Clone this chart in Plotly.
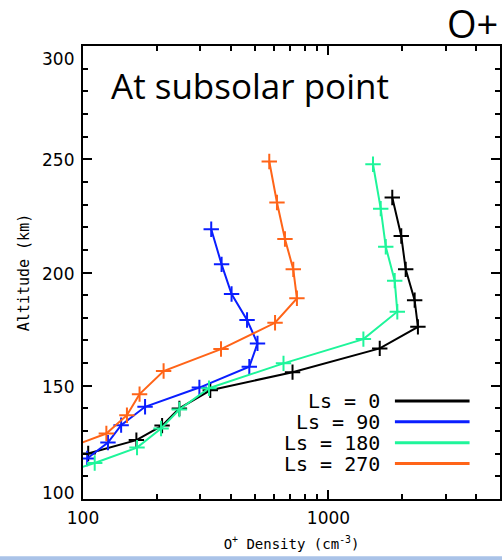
import plotly.graph_objects as go

# O+ density profiles at the subsolar point, one per solar longitude
ls_names = ["Ls = 0", "Ls = 90", "Ls = 180", "Ls = 270"]
ls_colors = ["#000000", "#0a1eff", "#1ef59a", "#ff6418"]

dens_ls0 = [1820, 1980, 2064, 2245, 2315, 1618, 714, 330, 247, 210, 165, 105]
alt_ls0 = [233.1, 216.1, 201.4, 187.8, 176.0, 166.5, 156.0, 148.0, 140.0, 132.4, 126.0, 120.1]

dens_ls90 = [333, 367, 403, 466, 514, 476, 298, 179, 143, 126.4, 104]
alt_ls90 = [219.1, 203.6, 190.5, 179.0, 168.7, 158.4, 149.2, 140.7, 132.6, 124.9, 117.9]

dens_ls180 = [1519, 1633, 1712, 1862, 1908, 1388, 656, 326, 247, 208, 166, 111.6, 78]
alt_ls180 = [247.8, 228.2, 211.4, 196.4, 182.7, 170.6, 159.9, 148.9, 139.5, 131.1, 122.7, 115.9, 110.5]

dens_ls270 = [574, 617, 665, 719, 744, 606, 365, 213, 170, 151, 124.5, 77]
alt_ls270 = [249.0, 230.9, 214.8, 201.4, 188.6, 177.8, 166.2, 156.5, 146.3, 137.0, 128.9, 120.5]

densities = [dens_ls0, dens_ls90, dens_ls180, dens_ls270]
altitudes = [alt_ls0, alt_ls90, alt_ls180, alt_ls270]

x_tickvals = [100, 1000]
x_ticktext = ["100", "1000"]
x_minor = [200, 300, 400, 500, 600, 700, 800, 900, 2000, 3000, 4000]
y_tickvals = [100, 150, 200, 250, 300]
y_ticktext = ["100", "150", "200", "250", "300"]
y_minor = [v for v in range(110, 300, 10) if v % 50 != 0]

fig = go.Figure()
for name, color, xs, ys in zip(ls_names, ls_colors, densities, altitudes):
    fig.add_trace(go.Scatter(
        x=xs, y=ys, mode="lines+markers", name=name,
        line=dict(color=color, width=2),
        marker=dict(symbol="cross-thin", size=11, line=dict(color=color, width=2)),
        showlegend=False, cliponaxis=True,
    ))

tick_font = dict(family="DejaVu Sans", size=17, color="black")
axis_common = dict(
    showline=True, linewidth=2, linecolor="black", mirror="allticks",
    ticks="inside", tickwidth=1.5, tickcolor="black",
    showgrid=False, zeroline=False, tickfont=tick_font,
)

fig.update_xaxes(
    type="log", range=[2, 3.69897],
    tickmode="array", tickvals=x_tickvals, ticktext=x_ticktext, ticklen=9,
    ticklabelstandoff=3,
    minor=dict(tickmode="array", tickvals=x_minor, ticks="inside", ticklen=5,
               tickwidth=1.5, tickcolor="black", showgrid=False),
    title=dict(text="O<sup>+</sup> Density (cm<sup>-3</sup>)",
               font=dict(family="DejaVu Sans Mono", size=14, color="black"), standoff=12),
    **axis_common,
)
# y tick labels are drawn as annotations so the end labels can sit inside the frame span
fig.update_yaxes(
    range=[100, 300],
    tickmode="array", tickvals=y_tickvals, ticklen=9, showticklabels=False,
    minor=dict(tickmode="array", tickvals=y_minor, ticks="inside", ticklen=5,
               tickwidth=1.5, tickcolor="black", showgrid=False),
    title=dict(text="Altitude (km)",
               font=dict(family="DejaVu Sans Mono", size=15, color="black"), standoff=48),
    **axis_common,
)

annotations = [
    dict(text="O+", xref="paper", yref="paper", x=0.999, y=1.05, xanchor="right",
         yanchor="middle", showarrow=False, height=42,
         font=dict(family="Open Sans", size=38, color="black")),
    dict(text="At subsolar point", xref="paper", yref="paper", x=0.401, y=0.912,
         xanchor="center", yanchor="middle", showarrow=False,
         font=dict(family="Open Sans", size=35, color="black")),
]
y_lo, y_hi = min(y_tickvals), max(y_tickvals)
for v, t in zip(y_tickvals, y_ticktext):
    shift = -13 if v == y_hi else (6 if v == y_lo else -1)
    annotations.append(dict(
        text=t, xref="paper", yref="y", x=0, y=v, xanchor="right", yanchor="middle",
        xshift=-7, yshift=shift, showarrow=False, font=tick_font))

shapes = []
for i, (name, color) in enumerate(zip(ls_names, ls_colors)):
    ly = 0.2166 - i * 0.0461
    annotations.append(dict(
        text=name, xref="paper", yref="paper", x=0.716, y=ly,
        xanchor="right", yanchor="middle", showarrow=False, height=20,
        font=dict(family="DejaVu Sans Mono", size=20, color="black")))
    shapes.append(dict(type="line", xref="paper", yref="paper",
                       x0=0.748, x1=0.927, y0=ly, y1=ly,
                       line=dict(color=color, width=3)))

# thin slide band along the bottom edge
shapes.append(dict(type="rect", xref="paper", yref="paper",
                   x0=-0.25, x1=1.05, y0=-0.15, y1=-0.1265,
                   line=dict(width=0), fillcolor="#aac3e8", layer="below"))

fig.update_layout(
    width=502, height=560,
    margin=dict(l=83, r=0, t=46, b=61),
    paper_bgcolor="white", plot_bgcolor="white",
    annotations=annotations, shapes=shapes,
    showlegend=False,
)

fig.write_html("out.html")
